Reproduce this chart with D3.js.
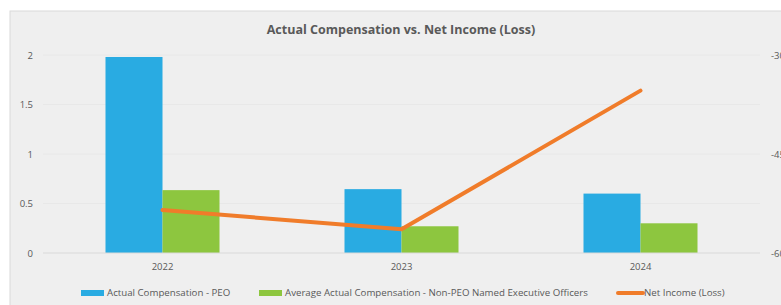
<!DOCTYPE html>
<html>
<head>
<meta charset="utf-8">
<script src="https://cdn.jsdelivr.net/npm/d3@7"></script>
<style>
  body { margin: 0; background: #fff; }
  svg { display: block; font-family: "Open Sans", "DejaVu Sans", sans-serif; }
</style>
</head>
<body>
<div id="chart"></div>
<script>
const years = ['2022', '2023', '2024'];
const peoComp = [1.98, 0.645, 0.60];
const nonPeoComp = [0.635, 0.27, 0.30];
const netIncome = [-53.5, -56.4, -35.4];
const leftTicks = [0, 0.5, 1, 1.5, 2];
const rightTicks = [-60, -45, -30];
const seriesNames = ['Actual Compensation - PEO', 'Average Actual Compensation - Non-PEO Named Executive Officers', 'Net Income (Loss)'];

const W = 781, H = 305;
const margin = { top: 55, right: 20, bottom: 52, left: 43 };
const innerW = 760 - margin.left;
const innerH = 253 - margin.top;

const svg = d3.select('#chart').append('svg').attr('width', W).attr('height', H);

// chart area background
svg.append('rect')
  .attr('x', 10).attr('y', 11).attr('width', W).attr('height', H)
  .attr('fill', '#efefef').attr('stroke', '#dadada');

// title
svg.append('text')
  .attr('x', 401).attr('y', 34)
  .attr('text-anchor', 'middle')
  .attr('font-size', 12.5).attr('font-weight', 'bold')
  .attr('fill', '#595959')
  .text('Actual Compensation vs. Net Income (Loss)');

const g = svg.append('g').attr('transform', `translate(${margin.left},${margin.top})`);

// scales
const x = d3.scaleBand().domain(years).range([0, innerW]);
const barW = 57;
const yL = d3.scaleLinear().domain([0, 2]).range([innerH, 0]);
const yR = d3.scaleLinear().domain([-60, -30]).range([innerH, 0]);

// faint gridlines
g.append('g').selectAll('line').data(leftTicks.slice(1)).enter().append('line')
  .attr('x1', 0).attr('x2', innerW)
  .attr('y1', d => yL(d)).attr('y2', d => yL(d))
  .attr('stroke', '#e8e8e8').attr('stroke-width', 1);

// left axis
const leftAxis = g.append('g').call(d3.axisLeft(yL).tickValues(leftTicks).tickSize(0).tickPadding(10).tickFormat(d => String(d)));
leftAxis.select('.domain').remove();
leftAxis.selectAll('text').attr('fill', '#595959').attr('font-size', 9.5).attr('font-family', '"Open Sans", sans-serif');

// right axis (cut off by the right edge, as in the source image)
const rightAxis = g.append('g').attr('transform', `translate(${innerW},0)`)
  .call(d3.axisRight(yR).tickValues(rightTicks).tickSize(0).tickPadding(11).tickFormat(d => String(d)));
rightAxis.select('.domain').remove();
rightAxis.selectAll('text').attr('fill', '#595959').attr('font-size', 9.5).attr('font-family', '"Open Sans", sans-serif');

// bars
const cx = d => x(d) + x.bandwidth() / 2;
g.append('g').selectAll('rect').data(years).enter().append('rect')
  .attr('x', d => cx(d) - barW).attr('width', barW)
  .attr('y', (d, i) => yL(peoComp[i])).attr('height', (d, i) => innerH - yL(peoComp[i]))
  .attr('fill', '#29abe2');
g.append('g').selectAll('rect').data(years).enter().append('rect')
  .attr('x', d => cx(d)).attr('width', barW)
  .attr('y', (d, i) => yL(nonPeoComp[i])).attr('height', (d, i) => innerH - yL(nonPeoComp[i]))
  .attr('fill', '#8dc63f');

// baseline
g.append('line').attr('x1', 0).attr('x2', innerW).attr('y1', innerH).attr('y2', innerH)
  .attr('stroke', '#d9d9d9').attr('stroke-width', 1);

// x axis
const xAxis = g.append('g').attr('transform', `translate(0,${innerH})`)
  .call(d3.axisBottom(x).tickSize(0).tickPadding(10));
xAxis.select('.domain').remove();
xAxis.selectAll('text').attr('fill', '#595959').attr('font-size', 9.5).attr('font-family', '"Open Sans", sans-serif');

// net income line
const line = d3.line().x((d, i) => cx(years[i])).y(d => yR(d));
g.append('path').datum(netIncome)
  .attr('d', line).attr('fill', 'none')
  .attr('stroke', '#f07c2a').attr('stroke-width', 4).attr('stroke-linecap', 'round').attr('stroke-linejoin', 'round');

// legend
const legendY = 293;
const legendItems = [
  { name: seriesNames[0], color: '#29abe2', type: 'bar', x: 81 },
  { name: seriesNames[1], color: '#8dc63f', type: 'bar', x: 259 },
  { name: seriesNames[2], color: '#f07c2a', type: 'line', x: 618 }
];
const legend = svg.append('g');
legendItems.forEach(d => {
  if (d.type === 'bar') {
    legend.append('rect').attr('x', d.x).attr('y', legendY - 3).attr('width', 23).attr('height', 6).attr('fill', d.color);
  } else {
    legend.append('line').attr('x1', d.x).attr('x2', d.x + 25).attr('y1', legendY).attr('y2', legendY)
      .attr('stroke', d.color).attr('stroke-width', 4).attr('stroke-linecap', 'round');
  }
  legend.append('text').attr('x', d.x + 26).attr('y', legendY).attr('dy', '0.35em')
    .attr('font-size', 9.7).attr('fill', '#595959').text(d.name);
});
</script>
</body>
</html>
